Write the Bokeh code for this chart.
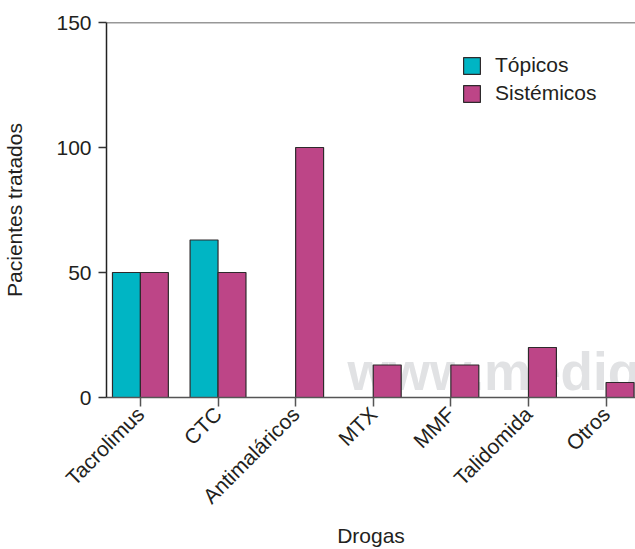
import math
from bokeh.plotting import figure
from bokeh.models import (ColumnDataSource, FixedTicker, Span, Label, Legend, LegendItem,
                          CDSView, BooleanFilter)
from bokeh.transform import dodge
from bokeh.embed import file_html
from bokeh.resources import INLINE

# ---- data ----
drogas = ["Tacrolimus", "CTC", "Antimaláricos", "MTX", "MMF", "Talidomida", "Otros"]
topicos = [50, 63, 0, 0, 0, 0, 0]
sistemicos = [50, 50, 100, 13, 13, 20, 6]
y_ticks = [0, 50, 100, 150]

FONT = "Liberation Sans"
CYAN = "#00b5c4"
MAGENTA = "#bd4587"
EDGE = "#2e2a2c"
TXT = "#231f20"

xpos = list(range(len(drogas)))
src_t = ColumnDataSource(dict(x=xpos, v=topicos))
src_s = ColumnDataSource(dict(x=xpos, v=sistemicos))
view_t = CDSView(filter=BooleanFilter([v > 0 for v in topicos]))
view_s = CDSView(filter=BooleanFilter([v > 0 for v in sistemicos]))

p = figure(width=635, height=549, output_backend="svg", toolbar_location=None,
           x_range=(-0.437, 6.379), y_range=(0, 150),
           min_border_left=105, min_border_right=0, min_border_top=22, min_border_bottom=152)
p.outline_line_color = None
p.grid.grid_line_color = None
p.background_fill_color = "white"
p.border_fill_color = "white"

# watermark (screen offsets from the frame's bottom-left corner)
wm = Label(x=241, y=-3, x_units="screen", y_units="screen", text="www.medigraphic.com",
           text_font=FONT, text_font_size="53px", text_font_style="bold",
           text_color="#e1e2e4", level="underlay")
p.add_layout(wm)

bw = 0.36
rt = p.vbar(x=dodge("x", -bw / 2), top="v", width=bw, source=src_t, view=view_t,
            fill_color=CYAN, line_color=EDGE, line_width=1.2)
rs = p.vbar(x=dodge("x", bw / 2), top="v", width=bw, source=src_s, view=view_s,
            fill_color=MAGENTA, line_color=EDGE, line_width=1.2)

# top border line
p.add_layout(Span(location=150, dimension="width", line_color="#333333", line_width=1.5))

# x axis
xa = p.xaxis[0]
xa.ticker = FixedTicker(ticks=xpos)
xa.major_label_overrides = {i: d for i, d in enumerate(drogas)}
xa.major_label_orientation = math.pi / 4
xa.major_label_text_font = FONT
xa.major_label_text_font_size = "21px"
xa.major_label_text_color = TXT
xa.major_label_standoff = 4
xa.axis_line_color = "#555555"
xa.axis_line_width = 1.5
xa.major_tick_line_color = "#555555"
xa.major_tick_line_width = 1.5
xa.major_tick_out = 9
xa.major_tick_in = 0
xa.minor_tick_line_color = None
xa.axis_label = "Drogas"
xa.axis_label_text_font = FONT
xa.axis_label_text_font_size = "21px"
xa.axis_label_text_font_style = "normal"
xa.axis_label_text_color = TXT
xa.axis_label_standoff = 5

# y axis
ya = p.yaxis[0]
ya.ticker = FixedTicker(ticks=y_ticks)
ya.major_label_text_font = FONT
ya.major_label_text_font_size = "21px"
ya.major_label_text_color = TXT
ya.major_label_standoff = 7
ya.axis_line_color = "#222222"
ya.axis_line_width = 1.5
ya.major_tick_line_color = "#333333"
ya.major_tick_line_width = 1.5
ya.major_tick_out = 8
ya.major_tick_in = 0
ya.minor_tick_line_color = None
ya.axis_label = "Pacientes tratados"
ya.axis_label_text_font = FONT
ya.axis_label_text_font_size = "21px"
ya.axis_label_text_font_style = "normal"
ya.axis_label_text_color = TXT
ya.axis_label_standoff = 27

legend = Legend(items=[LegendItem(label="Tópicos", renderers=[rt]),
                       LegendItem(label="Sistémicos", renderers=[rs])],
                location=(355, 292), orientation="vertical",
                glyph_width=21, glyph_height=21, spacing=4, padding=0, margin=0,
                label_standoff=13, label_text_font=FONT, label_text_font_size="21px",
                label_text_color=TXT, border_line_color=None, background_fill_alpha=0)
p.add_layout(legend)

open("out.html", "w").write(file_html(p, INLINE))
